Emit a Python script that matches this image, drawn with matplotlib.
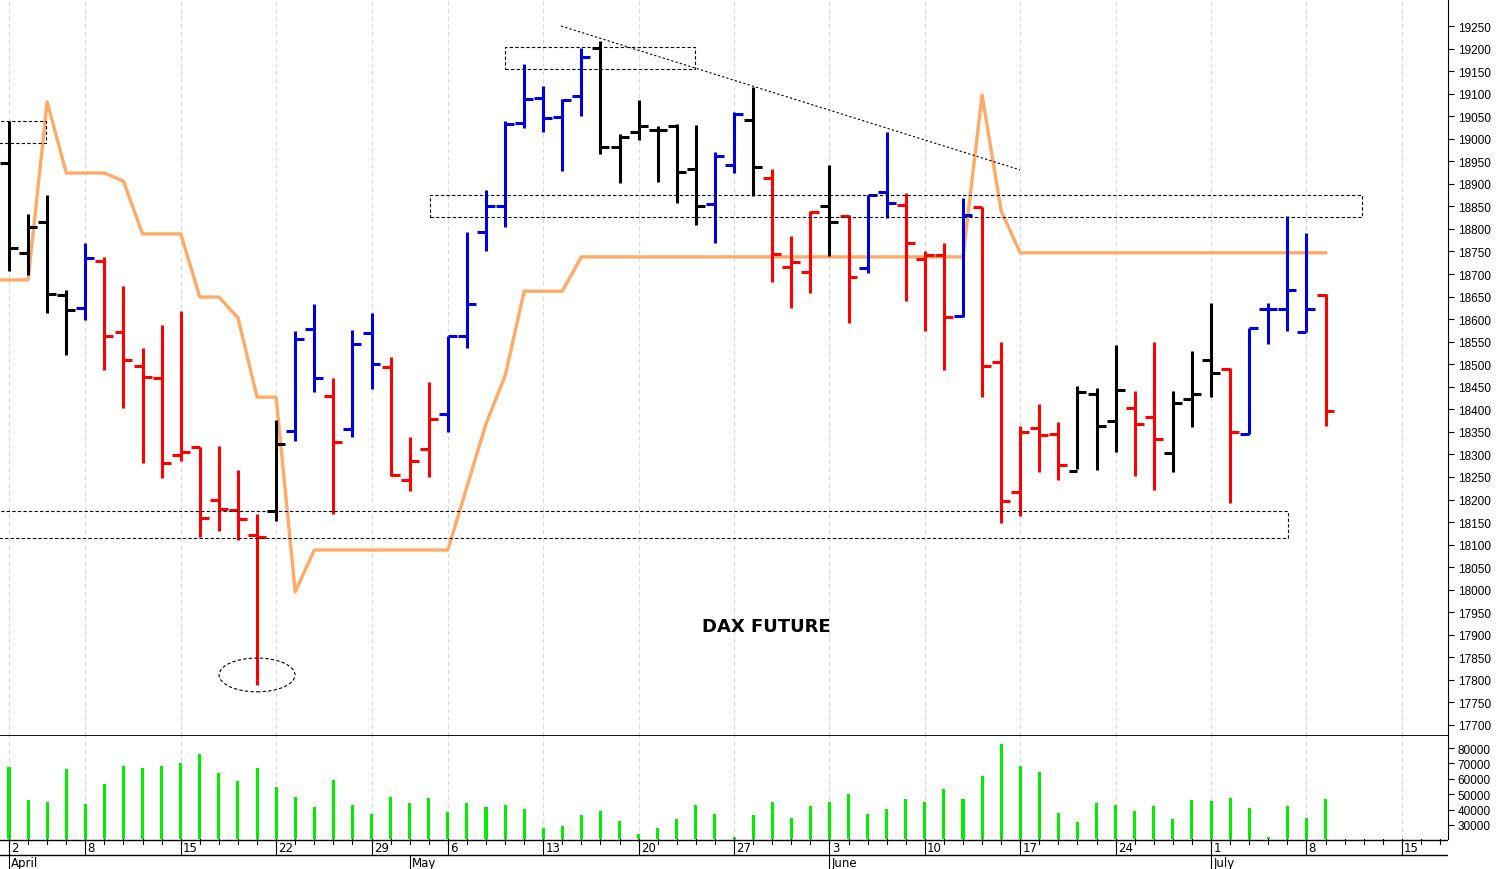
import matplotlib
matplotlib.use("Agg")
import matplotlib.pyplot as plt
from matplotlib.patches import Rectangle, Ellipse

plt.rcParams['font.family'] = ['Liberation Sans', 'DejaVu Sans']

opens  = [18946,18747,18815,18654,18625,18729,18571,18496,18470,18299,18317,18199,18177,18121,18175,18352,18578,18430,18356,18569,
          18494,18243,18311,18389,18563,18793,18850,19035,19090,19049,19094,19201,18982,19014,19019,19028,18933,18855,18942,19042,
          18914,18715,18705,18850,18829,18713,18883,18852,18733,18743,18606,18848,18504,18217,18359,18345,18264,18434,18375,18402,
          18382,18303,18424,18509,18489,18346,18622,18622,18571,18654]
highs  = [19039,18833,18876,18665,18769,18738,18674,18536,18587,18618,18317,18319,18265,18168,18377,18574,18634,18470,18577,18614,
          18516,18339,18460,18563,18793,18887,19040,19166,19116,19088,19201,19217,19010,19087,19029,19033,19030,18970,19059,19115,
          18933,18784,18839,18942,18832,18875,19016,18880,18750,18769,18868,18848,18549,18364,18412,18371,18452,18447,18543,18440,
          18549,18441,18530,18636,18491,18580,18635,18828,18790,18656]
lows   = [18707,18698,18614,18520,18599,18487,18403,18281,18248,18285,18117,18130,18110,17789,18152,18330,18439,18168,18339,18445,
          18253,18219,18249,18349,18535,18752,18804,19024,19014,18929,19050,18966,18901,18997,18903,18858,18809,18768,18924,18874,
          18682,18624,18658,18741,18592,18702,18824,18641,18573,18487,18604,18427,18148,18164,18262,18243,18268,18266,18305,18253,
          18221,18260,18360,18428,18192,18346,18545,18574,18571,18362]
closes = [18758,18805,18656,18620,18736,18563,18509,18472,18281,18305,18159,18179,18157,18117,18323,18556,18470,18328,18545,18501,
          18255,18285,18378,18563,18634,18850,19033,19088,19046,19087,19181,18981,19003,19028,19019,18926,18850,18962,19055,18938,
          18744,18726,18837,18815,18693,18875,18857,18768,18742,18604,18831,18497,18197,18350,18344,18277,18439,18364,18443,18367,
          18334,18414,18434,18481,18349,18580,18622,18665,18622,18396]
colors = (["k"]*4 + ["b"] + ["r"]*9 + ["k"] + ["b"]*2 + ["r"] + ["b"]*2 + ["r"]*3 + ["b"]*8 + ["k"]*6 + ["b"]*2 + ["k"]
          + ["r"]*3 + ["k"] + ["r"] + ["b"]*2 + ["r"]*3 + ["b"] + ["r"]*5 + ["k"]*3 + ["r"]*2 + ["k"]*3 + ["r"] + ["b"]*4 + ["r"])
volumes = [67450,46430,44720,66150,43850,56410,68310,66800,68310,70260,76100,63550,58790,67000,54460,48180,41470,59000,42770,36930,
           48180,44070,47530,38440,44070,41470,43200,40170,27840,29350,36490,39090,32380,23940,28270,34110,42770,37140,21990,36490,
           44940,34550,42550,44940,50130,37140,40390,47100,44720,53380,47100,61600,82810,68310,64640,37570,31730,44070,42770,38870,
           42120,33900,46020,45800,47530,41040,21990,42550,34330,46880]
stop_idx = [-1,0,1,2,3,4,5,6,7,8,9,10,11,12,13,14,15,16,23,24,25,26,27,29,30,50,51,52,53,69]
stop_val = [18687,18687,18687,19082,18924,18924,18924,18906,18789,18789,18789,18649,18649,18603,18427,18427,17995,18088,18088,18228,18368,18474,18662,18662,18738,18738,19097,18840,18747,18747]
week_idx = [0,4,9,14,19,23,28,33,38,43,48,53,58,63,68,73]
week_lab = ["2","8","15","22","29","6","13","20","27","3","10","17","24","1","8","15"]
month_idx = [0,21,43,63]
month_lab = ["April","May","June","July"]

BLUE, RED, BLACK = "#0000dd", "#ff0000", "#000000"
cmap = {"b": BLUE, "r": RED, "k": BLACK}
XL = (-0.472, 75.42)
n = len(opens)

fig = plt.figure(figsize=(14.97, 8.70), dpi=100)
ax = fig.add_axes([0, 133/870, 1448/1497, 737/870])
axv = fig.add_axes([0, 30/870, 1448/1497, 103/870])
axd = fig.add_axes([0, 0, 1448/1497, 30/870])

for a in (ax, axv):
    a.set_xlim(*XL)
    for w in week_idx:
        a.axvline(w, color="#d8d8d8", lw=0.8, ls=(0, (4, 3)), zorder=0)
    a.yaxis.tick_right()
    a.tick_params(axis="y", labelsize=8.5, length=4, pad=3)
    a.set_xticks([])
    for s in ("left", "top"):
        a.spines[s].set_visible(False)

ax.set_ylim(17675.6, 19309.9)
ax.set_yticks(range(17700, 19251, 50))
ax.spines["bottom"].set_visible(False)
ax.axhline(17675.6 + 0.5, color="black", lw=1.3, zorder=5, clip_on=False)

tk = 0.47
for i in range(n):
    c = cmap[colors[i]]
    ax.plot([i, i], [lows[i], highs[i]], color=c, lw=2.2, solid_capstyle="butt", zorder=3)
    ax.plot([i - tk, i], [opens[i], opens[i]], color=c, lw=2.2, solid_capstyle="butt", zorder=3)
    ax.plot([i, i + tk], [closes[i], closes[i]], color=c, lw=2.2, solid_capstyle="butt", zorder=3)

ax.plot(stop_idx, stop_val, color="#ffaa66", lw=2.4, zorder=2)

dash = dict(fill=False, ls=(0, (3, 2)), lw=0.8, ec="black", zorder=4)
ax.add_patch(Rectangle((-0.6, 18990), 2.52, 19039 - 18990, **dash))
ax.add_patch(Rectangle((26.0, 19155), 9.95, 19204 - 19155, **dash))
ax.add_patch(Rectangle((22.07, 18826), 48.84, 18875 - 18826, **dash))
ax.add_patch(Rectangle((-0.6, 18114), 67.62, 18174 - 18114, **dash))
ax.add_patch(Ellipse((13.0, 17811), 3.98, 75, **dash))
ax.plot([28.93, 52.99], [19250, 18931], color="black", lw=0.8, ls=(0, (2, 2)), zorder=4)
ax.text(39.7, 17920, "DAX FUTURE", fontsize=13, fontweight="bold", ha="center", va="center",
        family="DejaVu Sans")

axv.set_ylim(20900, 87800)
axv.set_yticks(range(30000, 80001, 10000))
axv.bar(range(n), [v - 20900 for v in volumes], bottom=20900, width=0.16, color="#00ee00", zorder=3)
axv.spines["bottom"].set_visible(False)

axd.set_xlim(*XL)
axd.set_ylim(30, 0)
axd.axis("off")
axd.plot([XL[0], XL[1]], [0.5, 0.5], color="black", lw=1.0)
axd.plot([XL[0], XL[1]], [16, 16], color="black", lw=1.0)
for d in range(0, 76):
    axd.plot([d, d], [0, 5], color="black", lw=0.8)
for w, l in zip(week_idx, week_lab):
    axd.plot([w, w], [0, 16], color="black", lw=0.8)
    axd.text(w + 0.12, 8.5, l, fontsize=8.5, ha="left", va="center", family="Liberation Sans Narrow")
for m, l in zip(month_idx, month_lab):
    axd.plot([m, m], [16, 30], color="black", lw=0.8)
    axd.text(m + 0.12, 24, l, fontsize=8.5, ha="left", va="center", family="Liberation Sans Narrow")

fig.savefig("out.png", dpi=100)
